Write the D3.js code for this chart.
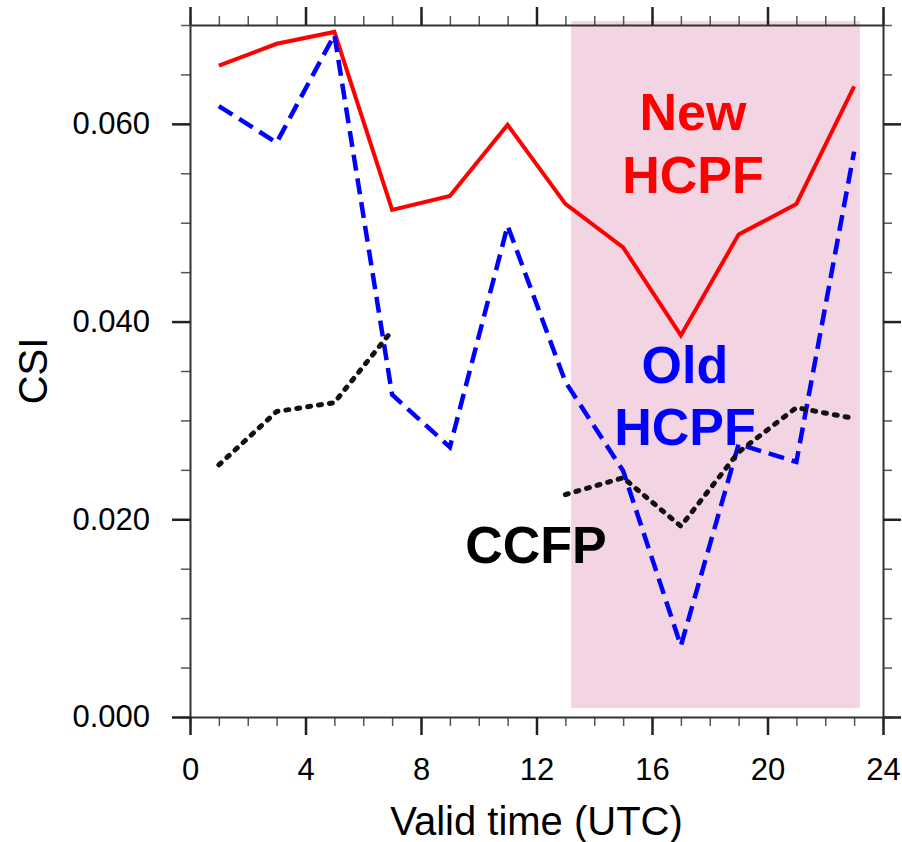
<!DOCTYPE html>
<html>
<head>
<meta charset="utf-8">
<script src="https://cdn.jsdelivr.net/npm/d3@7"></script>
<style>
  body { margin: 0; background: #fff; }
  svg { display: block; font-family: "Liberation Sans", Arial, Helvetica, sans-serif; }
</style>
</head>
<body>
<div id="chart"></div>
<script>
// data
var hours = [1, 3, 5, 7, 9, 11, 13, 15, 17, 19, 21, 23];
var newHcpf = [0.0659, 0.0681, 0.0693, 0.0513, 0.0527, 0.0599, 0.0519, 0.0475, 0.0386, 0.0488, 0.0519, 0.0638];
var oldHcpf = [0.0618, 0.0581, 0.0690, 0.0326, 0.0273, 0.0497, 0.0339, 0.0249, 0.0072, 0.0276, 0.0258, 0.0572];
var ccfp = [0.0255, 0.0309, 0.0318, 0.0391, null, null, 0.0225, 0.0242, 0.0193, 0.0268, 0.0313, 0.0302];

// shaded period (hours, CSI)
var shadeX = [13.2, 23.2];
var shadeY = [0.0009, 0.0704];

var xTicks = [0, 4, 8, 12, 16, 20, 24];
var yTicks = [0, 0.02, 0.04, 0.06];

var w = 902, h = 842;
var pLeft = 190, pRight = 883, pTop = 25, pBottom = 717;

var x = d3.scaleLinear().domain([0, 24]).range([pLeft, pRight]);
var y = d3.scaleLinear().domain([0, 0.07]).range([pBottom, pTop]);

var svg = d3.select("#chart").append("svg")
    .attr("width", w)
    .attr("height", h);

// pink box
svg.append("rect")
    .attr("x", x(shadeX[0]))
    .attr("y", y(shadeY[1]))
    .attr("width", x(shadeX[1]) - x(shadeX[0]))
    .attr("height", y(shadeY[0]) - y(shadeY[1]))
    .attr("fill", "#f3d4e3");

// labels
var labels = [
    {text: "New", x: 17.42, y: 0.0594, color: "#ff0000"},
    {text: "HCPF", x: 17.42, y: 0.0530, color: "#ff0000"},
    {text: "Old", x: 17.14, y: 0.0338, color: "#0000ff"},
    {text: "HCPF", x: 17.14, y: 0.0275, color: "#0000ff"},
    {text: "CCFP", x: 11.98, y: 0.0156, color: "#000000"}
];
svg.selectAll("text.lab")
    .data(labels)
    .enter()
    .append("text")
    .attr("class", "lab")
    .attr("x", function (d) { return x(d.x); })
    .attr("y", function (d) { return y(d.y); })
    .attr("text-anchor", "middle")
    .attr("font-size", "52px")
    .attr("font-weight", "bold")
    .attr("fill", function (d) { return d.color; })
    .text(function (d) { return d.text; });

// lines
var line = d3.line()
    .defined(function (d) { return d != null; })
    .x(function (d, i) { return x(hours[i]); })
    .y(function (d) { return y(d); });

svg.append("path")
    .datum(newHcpf)
    .attr("d", line)
    .attr("fill", "none")
    .attr("stroke", "#ff0000")
    .attr("stroke-width", 4);

svg.append("path")
    .datum(oldHcpf)
    .attr("d", line)
    .attr("fill", "none")
    .attr("stroke", "#0000ff")
    .attr("stroke-width", 4.5)
    .attr("stroke-dasharray", "16,8");

svg.append("path")
    .datum(ccfp)
    .attr("d", line)
    .attr("fill", "none")
    .attr("stroke", "#111")
    .attr("stroke-width", 5)
    .attr("stroke-linecap", "round")
    .attr("stroke-dasharray", "3,8");

// axes, ticks out on all four sides
function minor(step, max) {
    return d3.range(0, max + step / 2, step);
}
var xMinor = minor(1, 24);
var yMinor = minor(0.005, 0.07);

function styleAxis(g) {
    g.select(".domain").attr("stroke", "#333").attr("stroke-width", 2);
    g.selectAll(".tick line").attr("stroke", "#222").attr("stroke-width", 2.5);
}
function styleMinor(g) {
    g.select(".domain").remove();
    g.selectAll(".tick line").attr("stroke", "#555").attr("stroke-width", 1.5);
    g.selectAll(".tick text").remove();
}

// minor ticks
svg.append("g").attr("transform", "translate(0," + pBottom + ")")
    .call(d3.axisBottom(x).tickValues(xMinor).tickSize(9)).call(styleMinor);
svg.append("g").attr("transform", "translate(0," + pTop + ")")
    .call(d3.axisTop(x).tickValues(xMinor).tickSize(9)).call(styleMinor);
svg.append("g").attr("transform", "translate(" + pLeft + ",0)")
    .call(d3.axisLeft(y).tickValues(yMinor).tickSize(9)).call(styleMinor);
svg.append("g").attr("transform", "translate(" + pRight + ",0)")
    .call(d3.axisRight(y).tickValues(yMinor).tickSize(9)).call(styleMinor);

// major ticks
var xAxis = svg.append("g").attr("transform", "translate(0," + pBottom + ")")
    .call(d3.axisBottom(x).tickValues(xTicks).tickSize(18).tickSizeOuter(0).tickPadding(23))
    .call(styleAxis);
xAxis.selectAll("text").attr("font-size", "31px").attr("fill", "#000")
    .attr("font-family", "Liberation Sans, Arial, sans-serif");

svg.append("g").attr("transform", "translate(0," + pTop + ")")
    .call(d3.axisTop(x).tickValues(xTicks).tickSize(18).tickSizeOuter(0).tickFormat(""))
    .call(styleAxis);

var yAxis = svg.append("g").attr("transform", "translate(" + pLeft + ",0)")
    .call(d3.axisLeft(y).tickValues(yTicks).tickSize(18).tickSizeOuter(0).tickPadding(22).tickFormat(d3.format(".3f")))
    .call(styleAxis);
yAxis.selectAll("text").attr("font-size", "31px").attr("fill", "#000")
    .attr("font-family", "Liberation Sans, Arial, sans-serif");

svg.append("g").attr("transform", "translate(" + pRight + ",0)")
    .call(d3.axisRight(y).tickValues(yTicks).tickSize(18).tickSizeOuter(0).tickFormat(""))
    .call(styleAxis);

// axis titles
svg.append("text")
    .attr("x", (pLeft + pRight) / 2)
    .attr("y", 835)
    .attr("text-anchor", "middle")
    .attr("font-size", "40px")
    .text("Valid time (UTC)");

svg.append("text")
    .attr("transform", "translate(47," + (pTop + pBottom) / 2 + ") rotate(-90)")
    .attr("text-anchor", "middle")
    .attr("font-size", "40px")
    .text("CSI");
</script>
</body>
</html>
